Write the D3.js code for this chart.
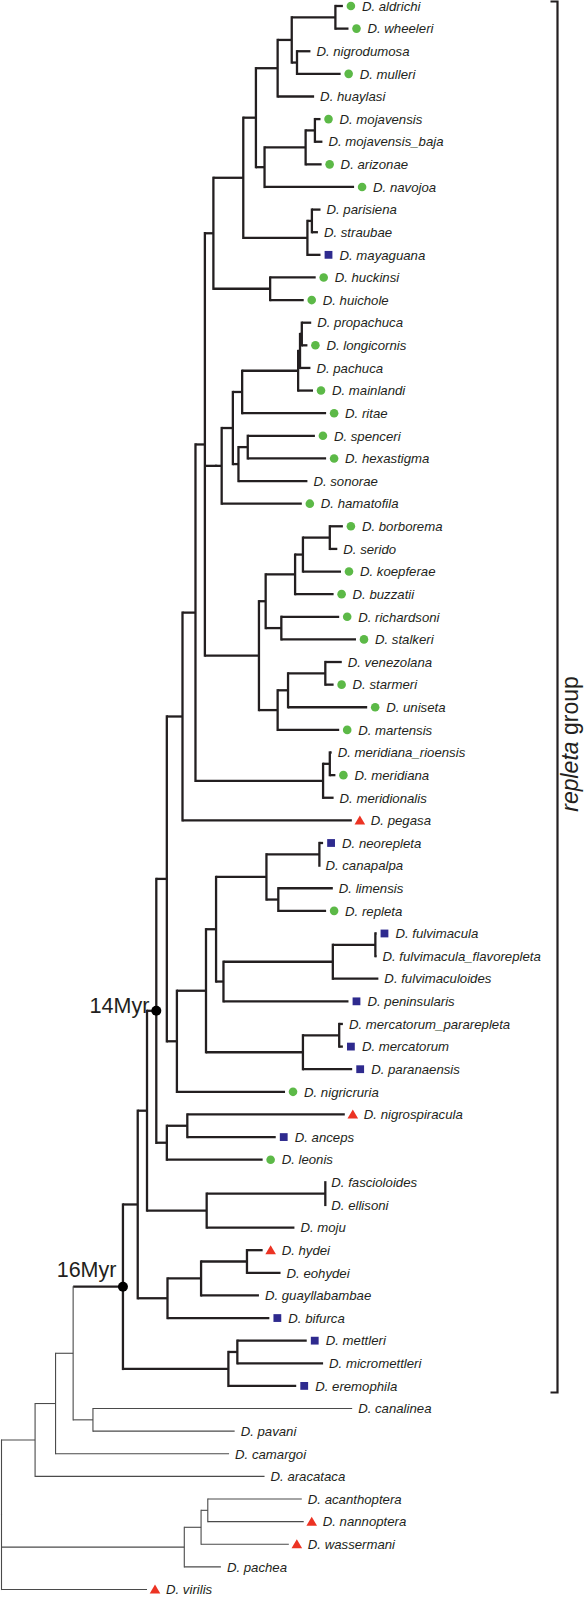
<!DOCTYPE html>
<html>
<head>
<meta charset="utf-8">
<script src="https://cdn.jsdelivr.net/npm/d3@7"></script>
<style>
  html, body { margin: 0; padding: 0; background: #fff; }
  svg { display: block; }
</style>
</head>
<body>
<script>
// ---------- DATA ----------
// Clades in Newick notation (branch lengths in arbitrary distance units)
const cladeMulleri   = "(((aldrichi:6.7,wheeleri:11.7):39,(nigrodumosa:12,mulleri:39):4.7):12.6,huaylasi:32.6):19.4";
const cladeMojavensis = "(((mojavensis:5,mojavensis_baja:6.7):8.3,arizonae:14.3):36.7,navojoa:80):7.7";
const cladeMayaguana = "((parisiena:7.7,straubae:5.4):4,mayaguana:11.7):57.3";
const cladeHuckinsi  = "(huckinsi:40.7,huichole:30):50.7";
const cladeLongicornis = "(((propachuca:8.4,longicornis:5):1.6,pachuca:9.3):1.7,mainlandi:13.3):50";
const cladeSpenceri  = "((spenceri:60,hexastigma:70):8.3,sonorae:61.6):5";
const cladeBuzzatii  = "((((borborema:11.7,serido:6.7):24,koepferae:34):7,buzzatii:34.4):26.3,(richardsoni:51.7,stalkeri:66.7):14):6";
const cladeMartensis = "(((venezolana:14.7,starmeri:7.4):33.3,uniseta:70.7):9.3,martensis:55):16.7";
const cladeMeridiana = "((meridiana_rioensis:1.7,meridiana:5):6,meridionalis:9.4):114";
const cladeRepleta   = "((neorepleta:3.3,canapalpa:0):47.3,(limensis:48.7,repleta:42.7):10.6):45";
const cladeFulvimacula = "(((fulvimacula:1,fulvimacula_flavorepleta:1):38,fulvimaculoides:40.7):97.7,peninsularis:111.7):6.6";
const cladeMercatorum = "((mercatorum_pararepleta:3.3,mercatorum:3.3):32.4,paranaensis:44):86.6";
const cladeAnceps    = "((nigrospiracula:140.7,anceps:79):18.3,leonis:85.6):9.4";
const cladeFasciola  = "((fascioloides:0,ellisoni:0):106,moju:78.4):53.3";
const cladeHydei     = "(((hydei:14,eohydei:30):41,guayllabambae:51.7):30,bifurca:91):26.6";
const cladeMettleri  = "((mettleri:62,micromettleri:76.6):8,eremophila:60.6):94.2";
const cladeCanalinea = "(canalinea:231.6,pavani:126.6):17.7";
const cladeNannoptera = "(((acanthoptera:84,nannoptera:85.7):6,wassermani:78.4):15,pachea:32.7):163.3";

const sub199 = `((${cladeMulleri},${cladeMojavensis}):11.3,${cladeMayaguana}):26.7`;
const nodeI  = `((${sub199},${cladeHuckinsi}):7.6,((((${cladeLongicornis},ritae:75):8.3,${cladeSpenceri}):10,hamatofila:71.6):5):10`;
const nodeL  = `(((${nodeI},(${cladeBuzzatii},${cladeMartensis}):48.3):8.4,${cladeMeridiana}):11.6,pegasa:151.3):14`;
const nodeP  = `(((${cladeRepleta},${cladeFulvimacula}):9,${cladeMercatorum}):26,nigricruria:96.6):9`;
const node14 = `((${nodeL},${nodeP}):9.4,${cladeAnceps})14Myr:8.3`;
const node16 = `(((${node14},${cladeFasciola}):8.3,${cladeHydei}):13.2,${cladeMettleri})16Myr:44.5`;
const newick = `((((${node16},${cladeCanalinea}):15.7,camargoi:155):18.3,aracataca:205):30,${cladeNannoptera},virilis:130);`;

// Tip character states
const circleSpecies = ["aldrichi","wheeleri","mulleri","mojavensis","arizonae","navojoa","huckinsi","huichole",
  "longicornis","mainlandi","ritae","spenceri","hexastigma","hamatofila","borborema","koepferae","buzzatii",
  "richardsoni","stalkeri","starmeri","uniseta","martensis","meridiana","repleta","nigricruria","leonis"];
const squareSpecies = ["mayaguana","neorepleta","fulvimacula","peninsularis","mercatorum","paranaensis","anceps",
  "bifurca","mettleri","eremophila"];
const triangleSpecies = ["pegasa","nigrospiracula","hydei","nannoptera","wassermani","virilis"];

const groupLabel = ["repleta", " group"];

// ---------- PARSE ----------
function parseNewick(s) {
  let i = 0;
  function node() {
    const n = {};
    if (s[i] === "(") {
      n.children = [];
      i++;
      n.children.push(node());
      while (s[i] === ",") { i++; n.children.push(node()); }
      i++; // ')'
    }
    let name = "";
    while (i < s.length && !",():;".includes(s[i])) name += s[i++];
    let len = 0;
    if (s[i] === ":") {
      i++;
      let num = "";
      while (i < s.length && !",();".includes(s[i])) num += s[i++];
      len = +num;
    }
    n.name = name; n.length = len;
    return n;
  }
  return node();
}

const W = 585, H = 1597;
const svg = d3.select("body").append("svg").attr("width", W).attr("height", H);

const root = d3.hierarchy(parseNewick(newick));
root.eachBefore(n => { n.v = (n.parent ? n.parent.v : 0) + n.data.length; });

const leaves = root.leaves();
const x = d3.scaleLinear().domain([0, 497]).range([1.5, 557.8]);
const y = d3.scaleLinear().domain([0, leaves.length - 1]).range([6, 1589.5]);

leaves.forEach((l, i) => { l.py = y(i); });
root.eachAfter(n => {
  if (n.children) n.py = (n.children[0].py + n.children[n.children.length - 1].py) / 2;
  n.px = x(n.v);
});

const node16Myr = root.descendants().find(d => d.data.name === "16Myr");
const node14Myr = root.descendants().find(d => d.data.name === "14Myr");
const thickSet = new Set(node16Myr.descendants());

const thickW = 2.3, thinW = 1.1;
const thickC = "#231f20", thinC = "#4a4a4a";
const FONT = "'Liberation Sans', Arial, Helvetica, sans-serif";

const g = svg.append("g");

// horizontal branches
g.selectAll("line.h").data(root.descendants().filter(d => d.parent)).join("line")
  .attr("x1", d => d.parent.px).attr("x2", d => d.px)
  .attr("y1", d => d.py).attr("y2", d => d.py)
  .attr("stroke", d => thickSet.has(d) ? thickC : thinC)
  .attr("stroke-width", d => thickSet.has(d) ? thickW : thinW);

// vertical connectors
g.selectAll("line.v").data(root.descendants().filter(d => d.children)).join("line")
  .attr("x1", d => d.px).attr("x2", d => d.px)
  .attr("y1", d => d.children[0].py).attr("y2", d => d.children[d.children.length - 1].py)
  .attr("stroke", d => thickSet.has(d) ? thickC : thinC)
  .attr("stroke-width", d => thickSet.has(d) ? thickW : thinW)
  .attr("stroke-linecap", "square");

// tip markers
function markerType(name) {
  if (circleSpecies.includes(name)) return "circle";
  if (squareSpecies.includes(name)) return "square";
  if (triangleSpecies.includes(name)) return "triangle";
  return null;
}
const mk = g.selectAll("g.mk").data(leaves.filter(l => markerType(l.data.name))).join("g")
  .attr("transform", d => `translate(${d.px + 8},${d.py})`);
mk.each(function(d) {
  const t = markerType(d.data.name);
  const s = d3.select(this);
  if (t === "circle") s.append("circle").attr("r", 4.3).attr("fill", "#5cb947");
  else if (t === "square") s.append("rect").attr("x", -3.9).attr("y", -3.9).attr("width", 7.8).attr("height", 7.8).attr("fill", "#2e2a8e");
  else s.append("path").attr("d", "M0,-4.9L5.3,4.1L-5.3,4.1Z").attr("fill", "#ec3323");
});

// tip labels
g.selectAll("text.tip").data(leaves).join("text")
  .attr("x", d => d.px + (markerType(d.data.name) ? 19 : 6))
  .attr("y", d => d.py)
  .attr("dy", "0.36em")
  .attr("font-family", FONT)
  .attr("font-style", "italic")
  .attr("font-size", "13.2px")
  .attr("fill", "#231f20")
  .text(d => "D. " + d.data.name);

// calibration nodes
[node14Myr, node16Myr].forEach(n => {
  g.append("circle").attr("cx", n.px).attr("cy", n.py).attr("r", 5).attr("fill", "#000");
});
g.append("text").attr("x", node14Myr.px - 7).attr("y", node14Myr.py + 1.7)
  .attr("text-anchor", "end").attr("font-family", FONT)
  .attr("font-size", "21.5px").attr("fill", "#231f20").text(node14Myr.data.name);
g.append("text").attr("x", node16Myr.px - 6.5).attr("y", node16Myr.py - 10)
  .attr("text-anchor", "end").attr("font-family", FONT)
  .attr("font-size", "21.5px").attr("fill", "#231f20").text(node16Myr.data.name);

// bracket for repleta group
const bx = 557.5, bTop = 1.5, bBot = 1392.5;
g.append("path").attr("d", `M${bx - 7},${bTop}H${bx}V${bBot}H${bx - 7}`)
  .attr("fill", "none").attr("stroke", thickC).attr("stroke-width", 2.2);
const gl = g.append("text").attr("transform", "translate(578,744) rotate(-90)")
  .attr("text-anchor", "middle").attr("font-family", FONT)
  .attr("font-size", "23px").attr("fill", "#231f20");
gl.append("tspan").attr("font-style", "italic").text(groupLabel[0]);
gl.append("tspan").text(groupLabel[1]);
</script>
</body>
</html>
